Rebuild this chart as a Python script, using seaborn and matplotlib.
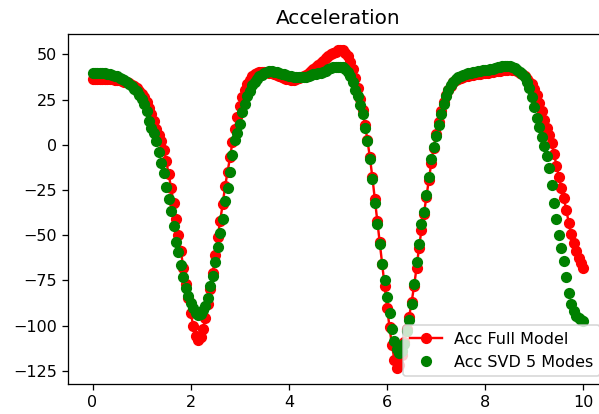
import numpy as np
import pandas as pd
import matplotlib
matplotlib.use("Agg")
import matplotlib.pyplot as plt
import seaborn as sns

# sample times (0 to 10 s, 201 samples)
time = np.linspace(0.0, 10.0, 201)

acc_full = [
    36.5, 36.5, 36.5, 36.5, 36.5, 36.5, 36.5, 36.4, 36.3, 36.1,
    35.9, 35.7, 35.4, 35.0, 34.6, 34.0, 33.3, 32.4, 31.2, 29.8,
    28.2, 26.2, 23.5, 20.5, 17.0, 13.0, 9.0, 5.5, 2.0, -3.0,
    -9.0, -16.0, -24.0, -32.0, -41.0, -50.0, -59.0, -68.0, -77.0, -85.0,
    -93.0, -100.0, -105.5, -108.0, -106.5, -102.0, -96.0, -88.0, -80.0, -71.0,
    -61.0, -51.0, -42.0, -33.0, -23.0, -15.0, -7.0, 1.5, 9.0, 15.5,
    21.5, 26.5, 30.5, 33.5, 36.0, 37.8, 39.0, 39.8, 40.2, 40.4,
    40.4, 40.2, 39.9, 39.5, 39.0, 38.5, 38.0, 37.5, 37.0, 36.6,
    36.3, 36.1, 36.1, 36.3, 36.7, 37.3, 38.0, 38.8, 39.7, 40.7,
    41.8, 43.0, 44.2, 45.4, 46.6, 47.8, 49.0, 50.0, 50.9, 51.6,
    52.2, 52.5, 52.2, 51.0, 49.0, 46.0, 42.0, 37.0, 31.5, 25.5,
    19.0, 11.0, 2.5, -7.0, -18.0, -30.0, -42.0, -54.0, -66.0, -78.0,
    -90.0, -101.0, -111.0, -119.0, -123.5, -122.0, -116.0, -109.0, -102.0, -95.0,
    -87.0, -78.0, -68.0, -57.0, -47.0, -38.0, -29.0, -19.5, -10.0, -1.5,
    6.0, 12.5, 18.5, 23.5, 27.5, 30.5, 32.8, 34.5, 35.7, 36.5,
    37.1, 37.6, 38.0, 38.3, 38.6, 38.8, 39.0, 39.2, 39.4, 39.6,
    39.8, 40.0, 40.2, 40.4, 40.6, 40.8, 41.0, 41.2, 41.4, 41.6,
    41.7, 41.6, 41.3, 40.8, 40.0, 39.0, 37.8, 36.4, 35.0, 33.5,
    31.0, 27.5, 23.0, 18.5, 14.0, 9.5, 5.5, 1.0, -5.0, -11.5,
    -18.0, -24.0, -29.5, -36.0, -43.0, -49.5, -54.5, -59.0, -62.5, -65.5,
    -68.0,
]

acc_svd5 = [
    39.5, 39.5, 39.5, 39.5, 39.5, 39.5, 39.3, 39.0, 38.7, 38.3,
    37.8, 37.2, 36.5, 35.7, 34.8, 33.8, 32.5, 31.0, 29.5, 27.5,
    25.5, 22.5, 18.5, 13.0, 9.5, 6.5, 2.0, -4.0, -10.0, -15.5,
    -23.5, -30.0, -36.5, -45.0, -53.5, -59.5, -66.5, -73.0, -79.0, -83.5,
    -87.5, -90.5, -93.0, -94.0, -93.5, -91.5, -89.0, -85.0, -78.0, -72.5,
    -65.0, -56.5, -49.0, -41.0, -31.0, -24.0, -15.0, -5.5, 2.5, 6.5,
    11.5, 18.0, 22.5, 27.0, 30.0, 33.0, 35.0, 36.5, 37.8, 38.7,
    39.5, 40.2, 40.6, 40.7, 40.5, 40.2, 39.8, 39.4, 39.0, 38.6,
    38.2, 37.9, 37.6, 37.4, 37.3, 37.3, 37.4, 37.6, 38.0, 38.5,
    39.0, 39.4, 39.7, 40.0, 40.4, 41.0, 41.7, 42.3, 42.8, 43.0,
    43.1, 43.1, 42.8, 42.0, 40.5, 38.0, 34.5, 30.5, 27.0, 22.0,
    17.0, 9.5, 2.0, -8.0, -19.0, -32.0, -44.0, -55.0, -66.0, -75.0,
    -84.0, -93.0, -102.0, -108.5, -113.0, -115.0, -114.0, -110.0, -103.0, -97.0,
    -88.0, -77.0, -65.0, -55.0, -44.0, -37.0, -28.0, -18.0, -8.0, -1.0,
    5.0, 11.0, 17.0, 22.5, 27.0, 30.5, 33.0, 35.0, 36.5, 37.5,
    38.2, 38.8, 39.3, 39.6, 39.9, 40.2, 40.5, 40.7, 41.0, 41.2,
    41.4, 41.6, 41.9, 42.2, 42.5, 42.8, 43.1, 43.4, 43.7, 43.8,
    43.6, 43.1, 42.4, 41.5, 40.4, 39.2, 37.5, 35.0, 31.5, 26.5,
    21.0, 15.0, 10.0, 4.5, -0.5, -6.0, -13.0, -22.0, -32.0, -41.0,
    -50.0, -57.0, -64.0, -73.0, -82.0, -88.0, -92.0, -94.5, -96.0, -97.0,
    -97.5,
]

labels = ["Acc Full Model", "Acc SVD 5 Modes"]
title = "Acceleration"

df = pd.DataFrame({"t": time, "full": acc_full, "svd": acc_svd5})

DPI = 115
W, H = 599, 414
fig = plt.figure(figsize=(W / DPI, H / DPI), dpi=DPI)
ax = fig.add_axes([68 / W, 30 / H, 540 / W, 350 / H])

sns.lineplot(data=df, x="t", y="full", ax=ax, color="red", marker="o",
             markeredgecolor="red", markeredgewidth=1.0, linewidth=1.5,
             errorbar=None, label=labels[0])
sns.lineplot(data=df, x="t", y="svd", ax=ax, color="green", marker="o",
             markeredgecolor="green", markeredgewidth=1.0, linestyle="",
             errorbar=None, label=labels[1])

ax.set_xlabel("")
ax.set_ylabel("")
ax.set_title(title, fontsize=12.5)
ax.legend(loc="lower right")

fig.savefig("out.png", dpi=DPI)
